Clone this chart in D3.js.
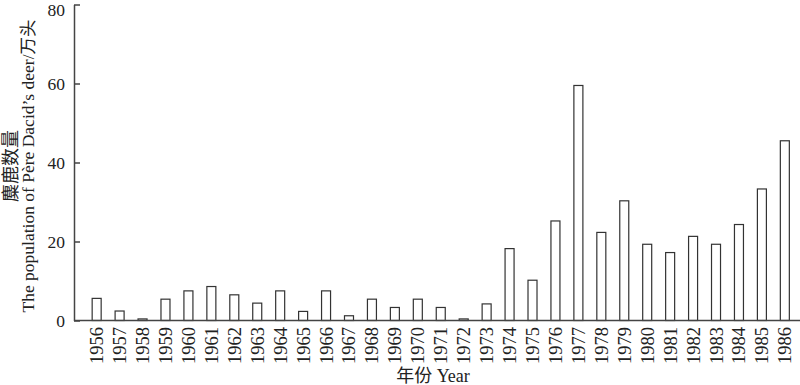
<!DOCTYPE html>
<html>
<head>
<meta charset="utf-8">
<script src="https://cdn.jsdelivr.net/npm/d3@7"></script>
<style>
  body { margin: 0; background: #fff; }
  svg text { font-family: "Liberation Serif", "Times New Roman", "Noto Sans CJK SC", serif; fill: #222; }
</style>
</head>
<body>
<svg width="800" height="385"></svg>
<script>
document.addEventListener("DOMContentLoaded", function () {

  var years = ["1956", "1957", "1958", "1959", "1960", "1961", "1962", "1963", "1964", "1965",
    "1966", "1967", "1968", "1969", "1970", "1971", "1972", "1973", "1974", "1975", "1976",
    "1977", "1978", "1979", "1980", "1981", "1982", "1983", "1984", "1985", "1986"];
  var population = [5.6, 2.4, 0.4, 5.4, 7.5, 8.6, 6.5, 4.4, 7.5, 2.3,
    7.5, 1.2, 5.4, 3.3, 5.4, 3.3, 0.4, 4.2, 18.2, 10.2, 25.2,
    59.5, 22.3, 30.3, 19.3, 17.2, 21.3, 19.3, 24.3, 33.3, 45.5];
  var yTicks = [0, 20, 40, 60, 80];

  var svg = d3.select("svg");
  var left = 74, right = 800, top = 4.5, bottom = 320.5;

  var x = d3.scaleBand()
    .domain(years)
    .range([left, 807.5])
    .paddingInner(0.564)
    .paddingOuter(0.77);

  var y = d3.scaleLinear()
    .domain([0, 80])
    .range([bottom, top]);

  // bars
  svg.append("g")
    .selectAll("rect")
    .data(population)
    .enter()
    .append("rect")
    .attr("x", function (d, i) { return x(years[i]) + 0.5; })
    .attr("y", function (d) { return y(d); })
    .attr("width", x.bandwidth() - 1)
    .attr("height", function (d) { return bottom - y(d); })
    .attr("fill", "#fff")
    .attr("stroke", "#333")
    .attr("stroke-width", 1.2);

  // y axis, ticks pointing inward
  var yAxis = svg.append("g")
    .attr("transform", "translate(" + left + ",0)")
    .call(d3.axisRight(y).tickValues(yTicks).tickSize(6).tickSizeOuter(0).tickFormat(""));
  yAxis.select(".domain").attr("stroke", "#444").attr("stroke-width", 1.5);
  yAxis.selectAll(".tick line").attr("stroke", "#444").attr("stroke-width", 1.5);

  // top label kept just inside the picture
  svg.append("g")
    .selectAll("text")
    .data(yTicks)
    .enter()
    .append("text")
    .attr("x", 65)
    .attr("y", function (d) { return Math.max(y(d), 10); })
    .attr("dy", "0.35em")
    .attr("text-anchor", "end")
    .style("font-size", "17.5px")
    .text(function (d) { return d; });

  // x axis line
  svg.append("line")
    .attr("x1", left).attr("x2", right)
    .attr("y1", bottom).attr("y2", bottom)
    .attr("stroke", "#444")
    .attr("stroke-width", 1.5);

  // year labels
  svg.append("g")
    .selectAll("text")
    .data(years)
    .enter()
    .append("text")
    .attr("transform", function (d) {
      return "translate(" + (x(d) + x.bandwidth() / 2) + ",327) rotate(-90)";
    })
    .attr("dy", "0.35em")
    .attr("text-anchor", "end")
    .style("font-size", "18.5px")
    .text(function (d) { return d; });

  // axis titles
  svg.append("text")
    .attr("x", 433)
    .attr("y", 382)
    .attr("text-anchor", "middle")
    .style("font-size", "18px")
    .text("年份 Year");

  var yTitle = svg.append("text")
    .attr("transform", "translate(0,166) rotate(-90)")
    .attr("text-anchor", "middle");
  yTitle.append("tspan").attr("x", 0).attr("y", 17).style("font-size", "18px").text("麋鹿数量");
  yTitle.append("tspan").attr("x", 0).attr("y", 34).style("font-size", "17.5px").text("The population of Père Dacid’s deer/万头");

});
</script>
</body>
</html>
